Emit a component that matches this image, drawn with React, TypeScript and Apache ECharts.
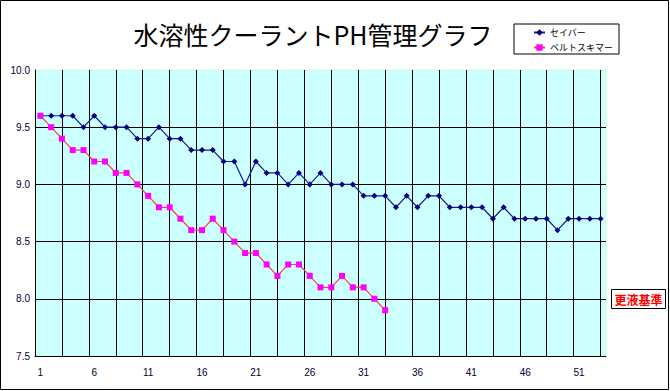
import React, { useEffect, useRef } from "react";
import * as echarts from "echarts";

const categories: string[] = [
  "1","2","3","4","5","6","7","8","9","10","11","12","13","14","15","16","17","18","19","20",
  "21","22","23","24","25","26","27","28","29","30","31","32","33","34","35","36","37","38","39","40",
  "41","42","43","44","45","46","47","48","49","50","51","52","53",
];

const saberValues: number[] = [
  9.6, 9.6, 9.6, 9.6, 9.5, 9.6, 9.5, 9.5, 9.5, 9.4,
  9.4, 9.5, 9.4, 9.4, 9.3, 9.3, 9.3, 9.2, 9.2, 9.0,
  9.2, 9.1, 9.1, 9.0, 9.1, 9.0, 9.1, 9.0, 9.0, 9.0,
  8.9, 8.9, 8.9, 8.8, 8.9, 8.8, 8.9, 8.9, 8.8, 8.8,
  8.8, 8.8, 8.7, 8.8, 8.7, 8.7, 8.7, 8.7, 8.6, 8.7,
  8.7, 8.7, 8.7,
];

const beltSkimmerValues: number[] = [
  9.6, 9.5, 9.4, 9.3, 9.3, 9.2, 9.2, 9.1, 9.1, 9.0,
  8.9, 8.8, 8.8, 8.7, 8.6, 8.6, 8.7, 8.6, 8.5, 8.4,
  8.4, 8.3, 8.2, 8.3, 8.3, 8.2, 8.1, 8.1, 8.2, 8.1,
  8.1, 8.0, 7.9,
];

const seriesNames = ["セイバー", "ベルトスキマー"];
const titleText = "水溶性クーラントPH管理グラフ";
const noteText = "更液基準";

export default function App() {
  const ref = useRef<HTMLDivElement>(null);

  useEffect(() => {
    if (!ref.current) return;
    const chart = echarts.init(ref.current, null, { renderer: "svg" });
    const numFont = "'Liberation Sans', Arial, 'Noto Sans CJK JP', sans-serif";
    const jpFont = "'Noto Sans CJK JP', sans-serif";
    chart.setOption({
      animation: false,
      backgroundColor: "#ffffff",
      grid: {
        left: 35,
        top: 70,
        width: 571,
        height: 286,
        show: true,
        backgroundColor: "#CCFFFF",
        borderColor: "#CCFFCC",
        borderWidth: 1,
      },
      legend: {
        orient: "vertical",
        left: 514,
        top: 24,
        width: 101,
        padding: [4, 6, 2, 19],
        itemGap: 6,
        itemWidth: 11,
        itemHeight: 8,
        borderColor: "#000000",
        borderWidth: 1,
        backgroundColor: "#ffffff",
        data: seriesNames,
        textStyle: { fontSize: 9, color: "#000000", fontFamily: jpFont },
      },
      xAxis: [
        {
          type: "category",
          data: categories,
          boundaryGap: true,
          axisLine: { show: true, lineStyle: { color: "#000000", width: 1 } },
          axisTick: { show: false },
          splitLine: { show: false },
          axisLabel: {
            interval: 4,
            margin: 11,
            fontSize: 10,
            color: "#000033",
            fontFamily: numFont,
          },
        },
        {
          type: "value",
          min: 0,
          max: 53,
          interval: 2.5,
          position: "bottom",
          axisLine: { show: false },
          axisTick: { show: false },
          axisLabel: { show: false },
          splitLine: {
            show: true,
            showMinLine: false,
            showMaxLine: false,
            lineStyle: { color: "#000000", width: 1 },
          },
        },
      ],
      yAxis: {
        type: "value",
        min: 7.5,
        max: 10,
        interval: 0.5,
        axisLine: { show: true, lineStyle: { color: "#000000", width: 1 } },
        axisTick: { show: false },
        splitLine: {
          show: true,
          showMaxLine: false,
          lineStyle: { color: "#000000", width: 1 },
        },
        axisLabel: {
          formatter: (v: number) => v.toFixed(1),
          margin: 5,
          fontSize: 10,
          color: "#000033",
          fontFamily: numFont,
        },
      },
      series: [
        {
          name: seriesNames[0],
          type: "line",
          xAxisIndex: 0,
          data: saberValues,
          symbol: "diamond",
          symbolSize: 6,
          itemStyle: { color: "#000080" },
          lineStyle: { color: "#1a1a8c", width: 1.2 },
        },
        {
          name: seriesNames[1],
          type: "line",
          xAxisIndex: 0,
          data: beltSkimmerValues,
          symbol: "rect",
          symbolSize: 6,
          itemStyle: { color: "#FF00FF" },
          lineStyle: { color: "#FF4040", width: 1.2 },
        },
      ],
      graphic: [
        {
          type: "rect",
          shape: { x: 0.5, y: 0.5, width: 668, height: 389 },
          style: { fill: "none", stroke: "#000000", lineWidth: 1 },
          silent: true,
          z: 100,
        },
        {
          type: "text",
          x: 313,
          y: 34,
          style: {
            text: titleText,
            fontSize: 25,
            fontFamily: jpFont,
            fill: "#000000",
            textAlign: "center",
            textVerticalAlign: "middle",
          },
        },
        {
          type: "rect",
          shape: { x: 611.5, y: 289.5, width: 54, height: 19 },
          style: { fill: "#ffffff", stroke: "#000000", lineWidth: 1 },
        },
        {
          type: "text",
          x: 638.5,
          y: 299.5,
          style: {
            text: noteText,
            fontSize: 12,
            fontWeight: "bold",
            fontFamily: jpFont,
            fill: "#FF0000",
            textAlign: "center",
            textVerticalAlign: "middle",
          },
        },
      ],
    });
    return () => chart.dispose();
  }, []);

  return (
    <div
      ref={ref}
      style={{ position: "absolute", left: 0, top: 0, width: 670, height: 391 }}
    />
  );
}
